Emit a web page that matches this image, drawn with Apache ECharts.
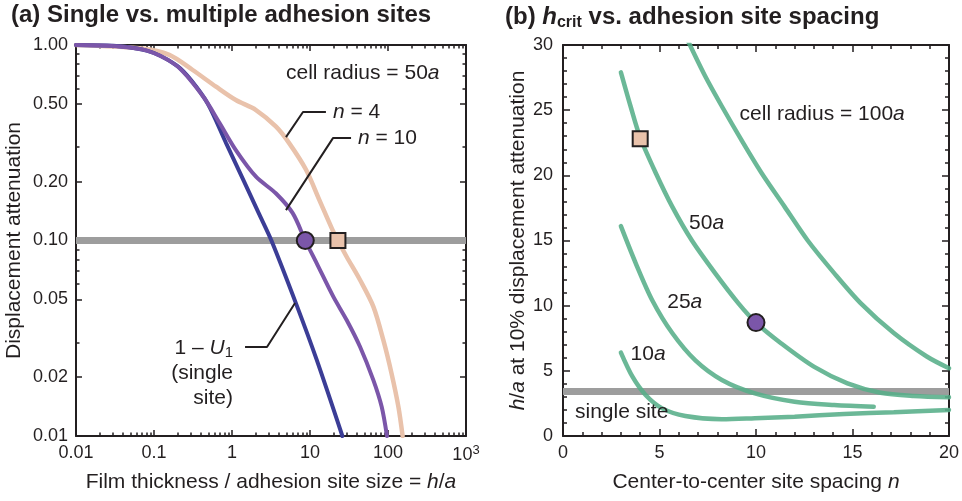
<!DOCTYPE html>
<html><head><meta charset="utf-8">
<script src="https://cdn.jsdelivr.net/npm/echarts@6/dist/echarts.min.js"></script>
<style>html,body{margin:0;padding:0;background:#fff}#c{width:962px;height:501px}</style>
</head><body><div id="c"></div>
<script>
// ---------------- data: panel (a) ----------------
const singleSite = [[0.01,1.0],[0.03,0.99],[0.06,0.96],[0.1,0.91],[0.2,0.78],[0.3,0.66],[0.49,0.5],[0.84,0.315],[1.43,0.2],[2.2,0.138],[3.2,0.1],[6.7,0.047],[12.2,0.0245],[26,0.01]];
const n10 = [[0.01,1.0],[0.07,0.95],[0.19,0.79],[0.42,0.55],[0.69,0.40],[1.12,0.29],[2.03,0.212],[3.67,0.174],[6.0,0.138],[8.7,0.1],[12.2,0.0764],[19.9,0.0516],[29.5,0.0392],[43.8,0.0286],[64.9,0.0193],[83,0.0141],[97,0.01]];
const n4 = [[0.01,1.0],[0.07,0.96],[0.157,0.89],[0.313,0.745],[0.624,0.612],[1.12,0.523],[2.03,0.465],[3.67,0.382],[5.43,0.314],[8.9,0.23],[13.2,0.161],[19.5,0.113],[22.8,0.1],[29.5,0.0826],[43.8,0.0628],[64.9,0.0459],[87,0.031],[111,0.0209],[136,0.0141],[154,0.01]];
const attenuationLevel = 0.1;
const hcritN10 = 8.7;
const hcritN4 = 22.8;
const xTicksA = [0.01,0.1,1,10,100,1000];
const yTicksA = [0.01,0.02,0.05,0.1,0.2,0.5,1];
const yMinorA = [0.03,0.06,0.07,0.08,0.09,0.3,0.6,0.7,0.8,0.9];
const xMinorA = [];
[0.01,0.1,1,10,100].forEach(d => { for (let k = 2; k <= 9; k++) xMinorA.push(+(k*d).toPrecision(3)); });

// ---------------- data: panel (b) ----------------
const r100 = [[6.45,30.4],[7.37,27.6],[8.23,25.3],[9.25,22.7],[10.28,20.2],[11.48,17.6],[12.68,15.0],[14.05,12.5],[15.42,10.2],[17.14,7.9],[18.85,6.1],[20,5.2]];
const r50 = [[3.0,27.9],[3.5,25.3],[4.0,22.9],[4.8,20.2],[5.66,17.6],[6.68,15.0],[7.88,12.5],[9.08,10.2],[10,8.7],[11.31,7.1],[13.02,5.3],[14.74,4.04],[16.45,3.32],[18.17,3.07],[20,2.97]];
const r25 = [[3.0,16.1],[3.77,13.25],[4.63,10.4],[5.66,7.9],[6.86,5.8],[8.23,4.3],[9.94,3.27],[12.0,2.63],[14.05,2.38],[16.1,2.25]];
const r10 = [[3.0,6.4],[3.6,4.55],[4.28,3.15],[5.14,2.12],[6.34,1.53],[8.23,1.28],[9.94,1.36],[12.0,1.48],[14.57,1.69],[17.14,1.82],[20,2.0]];
const singleSiteHcrit = 3.4;
const markerSpacings = [4, 10];

// ---------------- annotations (anchors in data units) ----------------
const annA = {
  cellRadius: [4.92, 0.719],
  n4Text: [19.7, 0.454],
  n10Text: [41.2, 0.334],
  u1Text: [1.03, 0.021],
  n4Leader: [[4.92,0.338],[8.13,0.454],[16.0,0.454]],
  n10Leader: [[4.92,0.143],[19.7,0.334],[33.6,0.334]],
  u1Leader: [[6.43,0.0479],[2.81,0.0285],[1.47,0.0285]]
};
const annB = {
  cellRadius: [9.15, 24.7],
  r50: [6.53, 16.35],
  r25: [5.4, 10.3],
  r10: [3.5, 6.3],
  single: [0.62, 1.85]
};

const FONT = '"Liberation Sans", Arial, Helvetica, sans-serif';
const INK = '#231f20';
const BLUE = '#3b3d96', PURPLE = '#7b56a9', PEACH = '#e9c2ab', GREEN = '#56ae89', GRAY = '#9d9d9d';
const axisLine = {show:true, onZero:false, lineStyle:{color:INK, width:2}};
const tickStyle = {color:INK, width:1.5};
const noSplit = {splitLine:{show:false}, minorSplitLine:{show:false}};
const txt = (size, extra) => Object.assign({color:INK, fontFamily:FONT, fontSize:size}, extra||{});
const italicRich = size => ({i: txt(size, {fontStyle:'italic'})});

function logAxis(gridIndex, position, min, max, ticks, len, main, label, name) {
  const ax = Object.assign({
    type:'log', logBase:10, gridIndex, position, min, max,
    axisLine: main ? axisLine : {show:false},
    axisTick:{show:true, inside:true, length:len, customValues:ticks, lineStyle:tickStyle},
    minorTick:{show:false},
    axisLabel: label || {show:false}
  }, noSplit);
  if (name) Object.assign(ax, name);
  return ax;
}
function valAxis(gridIndex, position, min, max, label, name) {
  const ax = Object.assign({
    type:'value', gridIndex, position, min, max, interval:5,
    axisLine,
    axisTick:{show:true, inside:true, length:7, lineStyle:tickStyle},
    minorTick:{show:true, splitNumber:5, length:4, lineStyle:tickStyle},
    axisLabel: label || {show:false}
  }, noSplit);
  if (name) Object.assign(ax, name);
  return ax;
}

const xLabelA = Object.assign(txt(18), {show:true, margin:8, customValues:xTicksA,
  formatter: v => v >= 999 ? '10{sup|3}' : String(+(+v).toPrecision(6)),
  rich:{sup: txt(13, {padding:[0,0,9,0]})}});
const yLabelA = Object.assign(txt(18), {show:true, margin:8, customValues:yTicksA,
  formatter: v => (+v).toFixed(2)});
const xLabelB = Object.assign(txt(18), {show:true, margin:8});
const yLabelB = Object.assign(txt(18), {show:true, margin:10});

const xAxis = [
  logAxis(0,'bottom',0.01,1000,xTicksA,6,true,xLabelA,{
    name:'Film thickness / adhesion site size = {i|h}/{i|a}', nameLocation:'middle', nameGap:36,
    nameTextStyle: Object.assign(txt(21), {rich: italicRich(21)})}),
  logAxis(0,'bottom',0.01,1000,xMinorA,3.5,false),
  logAxis(0,'top',0.01,1000,xTicksA,6,true),
  logAxis(0,'top',0.01,1000,xMinorA,3.5,false),
  valAxis(1,'bottom',0,20,xLabelB,{
    name:'Center-to-center site spacing {i|n}', nameLocation:'middle', nameGap:36,
    nameTextStyle: Object.assign(txt(21), {rich: italicRich(21)})}),
  valAxis(1,'top',0,20)
];
const yAxis = [
  logAxis(0,'left',0.01,1,yTicksA,6,true,yLabelA,{
    name:'Displacement attenuation', nameLocation:'middle', nameGap:51,
    nameTextStyle: txt(21)}),
  logAxis(0,'left',0.01,1,yMinorA,3.5,false),
  logAxis(0,'right',0.01,1,yTicksA,6,true),
  logAxis(0,'right',0.01,1,yMinorA,3.5,false),
  valAxis(1,'left',0,30,yLabelB,{
    name:'{i|h}/{i|a} at 10% displacement attenuation', nameLocation:'middle', nameGap:34,
    nameTextStyle: Object.assign(txt(21), {rich: italicRich(21)})}),
  valAxis(1,'right',0,30)
];

function curve(data, color, width, xi, yi, opacity) {
  return {type:'line', data, xAxisIndex:xi, yAxisIndex:yi, smooth:0.3,
    symbol:'none', silent:true, lineStyle:{color, width, cap:'round', opacity: opacity==null?1:opacity}, z:3};
}
function leader(data) {
  return {type:'line', data, xAxisIndex:0, yAxisIndex:0, symbol:'none', silent:true,
    lineStyle:{color:INK, width:2}, z:4};
}
function note(pos, text, xi, yi, side, extraRich, extraLabel) {
  return {type:'scatter', data:[pos], xAxisIndex:xi, yAxisIndex:yi, symbol:'circle', symbolSize:0,
    silent:true, itemStyle:{color:INK, opacity:1}, z:6,
    label:Object.assign(txt(21), {show:true, position:side||'right', distance:0, formatter:text, opacity:1,
      textBorderWidth:0, rich: Object.assign(italicRich(21), extraRich||{})}, extraLabel||{})};
}
function marker(pos, shape, size, color, xi, yi) {
  return {type:'scatter', data:[pos], xAxisIndex:xi, yAxisIndex:yi, symbol:shape, symbolSize:size, silent:true,
    itemStyle:{color, borderColor:INK, borderWidth:2, opacity:1}, z:8};
}
const band = (v, xi, yi) => ({type:'line', data:[], xAxisIndex:xi, yAxisIndex:yi, silent:true,
  markLine:{silent:true, symbol:['none','none'], label:{show:false}, z:1,
    lineStyle:{color:GRAY, width:7, type:'solid', opacity:1},
    emphasis:{disabled:true}, data:[{yAxis:v}]}});

const series = [
  band(attenuationLevel,0,0),
  curve(n4, PEACH, 4.5, 0, 0),
  curve(singleSite, BLUE, 4, 0, 0),
  curve(n10, PURPLE, 4, 0, 0),
  leader(annA.n4Leader), leader(annA.n10Leader), leader(annA.u1Leader),
  note(annA.cellRadius, 'cell radius = 50{i|a}', 0, 0),
  note(annA.n4Text, '{i|n} = 4', 0, 0),
  note(annA.n10Text, '{i|n} = 10', 0, 0),
  note(annA.u1Text, '1 – {i|U}{sub|1}\n(single\nsite)', 0, 0, 'left',
    {sub: txt(15, {padding:[10,0,0,0]})}, {lineHeight:25, align:'right'}),
  marker([hcritN10, attenuationLevel], 'circle', 17, PURPLE, 0, 0),
  marker([hcritN4, attenuationLevel], 'rect', 15, PEACH, 0, 0),

  band(singleSiteHcrit,4,4),
  curve(r100, GREEN, 4.5, 4, 4, 0.88),
  curve(r50, GREEN, 4.5, 4, 4, 0.88),
  curve(r25, GREEN, 4.5, 4, 4, 0.88),
  curve(r10, GREEN, 4.5, 4, 4, 0.88),
  note(annB.cellRadius, 'cell radius = 100{i|a}', 4, 4),
  note(annB.r50, '50{i|a}', 4, 4),
  note(annB.r25, '25{i|a}', 4, 4),
  note(annB.r10, '10{i|a}', 4, 4),
  note(annB.single, 'single site', 4, 4),
  marker([markerSpacings[0], hcritN4], 'rect', 15, PEACH, 4, 4),
  marker([markerSpacings[1], hcritN10], 'circle', 17, PURPLE, 4, 4)
];

const chart = echarts.init(document.getElementById('c'), null, {renderer:'canvas'});
chart.setOption({
  animation:false,
  backgroundColor:'#ffffff',
  title:[
    {text:'(a) Single vs. multiple adhesion sites', left:11, top:3, padding:0,
      textStyle: txt(24, {fontWeight:'bold'})},
    {text:'(b) {h|h}{sub|crit} vs. adhesion site spacing', left:505, top:3, padding:0,
      textStyle: Object.assign(txt(24, {fontWeight:'bold'}), {rich:{
        h: txt(24, {fontWeight:'bold', fontStyle:'italic'}),
        sub: txt(16, {fontWeight:'bold', padding:[12,0,0,0]})}})}
  ],
  grid:[
    {left:76, right:496, top:45, bottom:65},
    {left:563, right:10, top:45, bottom:65}
  ],
  xAxis, yAxis, series
});
</script>
</body></html>
